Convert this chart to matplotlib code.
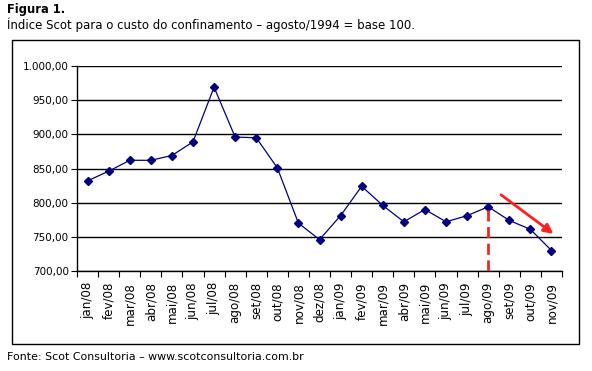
import matplotlib
matplotlib.use("Agg")
import matplotlib.pyplot as plt
from matplotlib.patches import Rectangle, FancyArrowPatch
import numpy as np

meses = ["jan/08", "fev/08", "mar/08", "abr/08", "mai/08", "jun/08", "jul/08",
         "ago/08", "set/08", "out/08", "nov/08", "dez/08", "jan/09", "fev/09",
         "mar/09", "abr/09", "mai/09", "jun/09", "jul/09", "ago/09", "set/09",
         "out/09", "nov/09"]
indice = [832, 846, 862, 862, 869, 889, 969, 896, 895, 851, 770, 746, 781,
          824, 796, 772, 790, 772, 781, 794, 774, 761, 730]
y_ticks = [700, 750, 800, 850, 900, 950, 1000]
marco = "ago/09"

plt.rcParams['font.family'] = ['DejaVu Sans']

fig = plt.figure(figsize=(5.92, 3.71), dpi=100)
W, H = 592, 371

# moldura externa do gráfico
fig.patches.append(Rectangle((12 / W, 1 - 344 / H), 567 / W, 304 / H,
                             transform=fig.transFigure, fill=False,
                             edgecolor='black', linewidth=1))

ax = fig.add_axes([77 / W, 1 - 271 / H, 485 / W, 205 / H])
x = np.arange(len(meses))
ax.plot(x, indice, color='#000080', linewidth=0.9, marker='D',
        markersize=4.5, zorder=3)

ax.set_xlim(-0.5, len(meses) - 0.5)
ax.set_ylim(y_ticks[0], y_ticks[-1])
ax.set_yticks(y_ticks)
ax.set_yticklabels([f"{v:,.2f}".replace(",", "X").replace(".", ",").replace("X", ".")
                    for v in y_ticks], fontsize=7.5)
ax.yaxis.grid(True, color='black', linewidth=1)
ax.set_axisbelow(True)

ax.set_xticks(x)
ax.set_xticklabels(meses, rotation=90, fontsize=8.6)
ax.set_xticks(np.arange(len(meses) + 1) - 0.5, minor=True)
ax.tick_params(axis='x', which='major', length=0, pad=8)
ax.tick_params(axis='x', which='minor', length=4, direction='out', width=0.8)
ax.tick_params(axis='y', length=4, width=0.8, pad=2)

for s in ['top', 'right']:
    ax.spines[s].set_visible(False)
for s in ['left', 'bottom']:
    ax.spines[s].set_linewidth(1)

# linha tracejada vermelha em ago/09
i = meses.index(marco)
ax.vlines(i, y_ticks[0], indice[i], colors='#ff2020', linestyles=(0, (4, 2)),
          linewidth=2, zorder=4)

# seta vermelha de queda
ax.add_patch(FancyArrowPatch((19.5, 814), (22.2, 752), arrowstyle='-|>',
                             mutation_scale=14, color='#ff2020', linewidth=2,
                             zorder=4))

fig.text(7 / W, 1 - 10 / H, "Figura 1.", fontsize=8.3, fontweight='bold',
         va='center', ha='left')
fig.text(7 / W, 1 - 25 / H,
         "Índice Scot para o custo do confinamento – agosto/1994 = base 100.",
         fontsize=8.5, va='center', ha='left')
fig.text(7 / W, 1 - 357 / H,
         "Fonte: Scot Consultoria – www.scotconsultoria.com.br",
         fontsize=7.9, va='center', ha='left')

fig.savefig("out.png", dpi=100)
